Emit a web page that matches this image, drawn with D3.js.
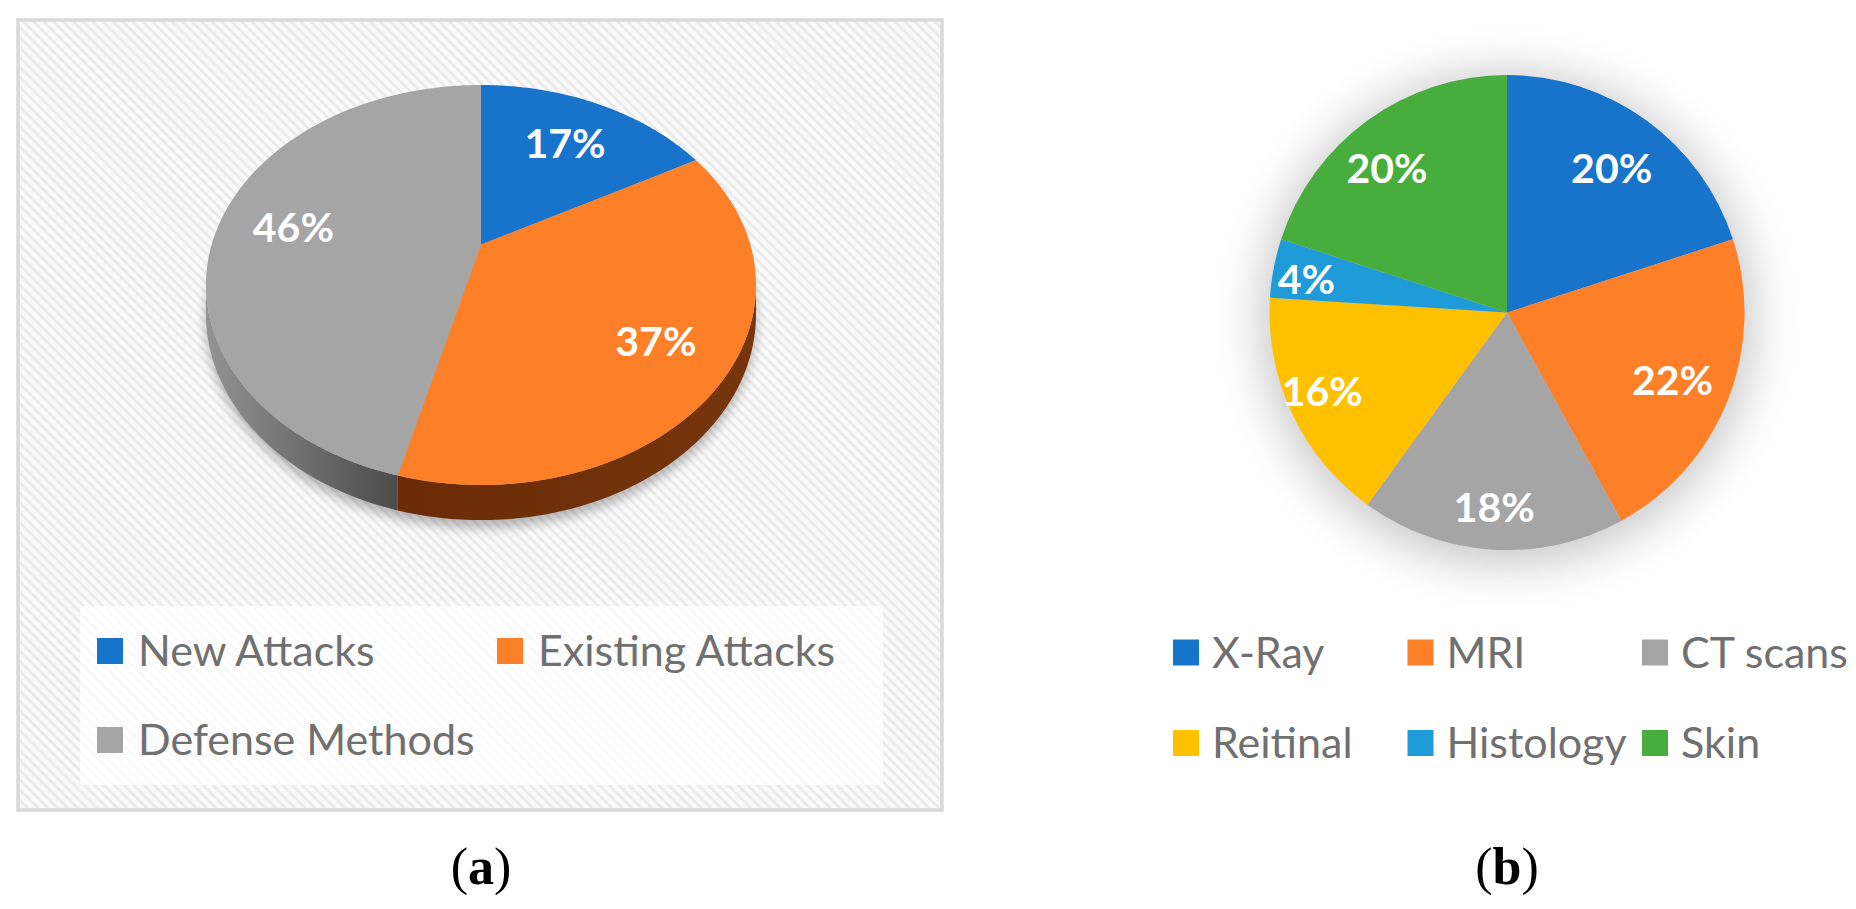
<!DOCTYPE html>
<html>
<head>
<meta charset="utf-8">
<script src="https://cdn.jsdelivr.net/npm/d3@7"></script>
<style>
  body { margin: 0; background: #fff; }
  svg { display: block; font-family: Lato, "Open Sans", sans-serif; }
</style>
</head>
<body>
<svg width="1856" height="909"></svg>
<script>
// (a) research focus
const attackNames = ["New Attacks", "Existing Attacks", "Defense Methods"];
const attackShares = [17, 37, 46];
// (b) image modality
const imageNames = ["X-Ray", "MRI", "CT scans", "Reitinal", "Histology", "Skin"];
const imageShares = [20, 22, 18, 16, 4, 20];
const captions = ["a", "b"];

const attackColors = ["#1873cb", "#fd7f27", "#a5a5a5"];
const attackSides = [["#0e3f70", "#0e3f70"], ["#76350c", "#6a2b06"], ["#939393", "#4b4b4b"]];
const imageColors = ["#1873cb", "#fd7f27", "#a5a5a5", "#ffc000", "#1f9bd9", "#47ad3c"];

const svg = d3.select("svg");
const defs = svg.append("defs");

// diagonal hatch behind panel a
const pat = defs.append("pattern")
  .attr("id", "stripes")
  .attr("patternUnits", "userSpaceOnUse")
  .attr("width", 7).attr("height", 7)
  .attr("patternTransform", "rotate(-45)");
pat.append("rect").attr("width", 7).attr("height", 7).attr("fill", "#fbfbfb");
pat.append("rect").attr("width", 3).attr("height", 7).attr("fill", "#ebebeb");

defs.append("filter").attr("id", "blurA")
  .attr("x", "-20%").attr("y", "-20%").attr("width", "140%").attr("height", "140%")
  .append("feGaussianBlur").attr("stdDeviation", 6);
defs.append("filter").attr("id", "blurB")
  .attr("x", "-50%").attr("y", "-50%").attr("width", "200%").attr("height", "200%")
  .append("feGaussianBlur").attr("stdDeviation", 24);

const pie = d3.pie().sort(null).value(d => d);
const line = d3.line();

// ---------- panel (a): 3D pie ----------
svg.append("rect")
  .attr("x", 18).attr("y", 20).attr("width", 924).attr("height", 790)
  .attr("fill", "url(#stripes)")
  .attr("stroke", "#d9d9d9").attr("stroke-width", 3.5);

const pa = { cx: 481, cy: 244.5, A: 269.3, B: 191.8, K: 0.2025, D: 28 };

// perspective view of the pie disc; theta clockwise from 12 o'clock
function project(theta, f, drop) {
  const u = f * Math.sin(theta), v = f * Math.cos(theta);
  const den = 1 + pa.K * v;
  return [pa.cx + pa.A * u / den, pa.cy - pa.B * v / den + (drop || 0) / den];
}
function arcPoints(a0, a1, f, drop) {
  const n = Math.max(2, Math.ceil((a1 - a0) / (Math.PI / 180)));
  return d3.range(n + 1).map(i => project(a0 + (a1 - a0) * i / n, f, drop));
}

const arcsA = pie(attackShares);
const gA = svg.append("g");

// soft shadow under the disc
gA.append("path")
  .attr("d", line(arcPoints(0, 2 * Math.PI, 1, pa.D + 6)) + "Z")
  .attr("fill", "#000").attr("opacity", 0.28)
  .attr("filter", "url(#blurA)");

const tA = Math.acos(-pa.K), tB = 2 * Math.PI - tA;
arcsA.forEach((d, i) => {
  const s0 = Math.max(d.startAngle, tA), s1 = Math.min(d.endAngle, tB);
  if (s1 <= s0) return;
  const pts = arcPoints(s0, s1, 1, 0).concat(arcPoints(s0, s1, 1, pa.D).reverse());
  const xs = d3.extent(pts, p => p[0]);
  const grad = defs.append("linearGradient")
    .attr("id", "side" + i).attr("gradientUnits", "userSpaceOnUse")
    .attr("x1", xs[0]).attr("x2", xs[1]).attr("y1", 0).attr("y2", 0);
  const shades = attackSides[i];
  grad.append("stop").attr("offset", 0).attr("stop-color", shades[1]);
  grad.append("stop").attr("offset", 1).attr("stop-color", shades[0]);
  if (i === 2) grad.selectAll("stop").attr("stop-color", (s, j) => shades[j]);
  gA.append("path")
    .attr("d", line(pts) + "Z")
    .attr("fill", "url(#side" + i + ")");
});

gA.selectAll("path.top").data(arcsA).join("path")
  .attr("class", "top")
  .attr("d", d => line([project(0, 0)].concat(arcPoints(d.startAngle, d.endAngle, 1, 0))) + "Z")
  .attr("fill", (d, i) => attackColors[i]);

// labels sit 72% of the way from the apex to the rim, in screen space
gA.selectAll("text.pct").data(arcsA).join("text")
  .attr("class", "pct")
  .attr("transform", d => {
    const rim = project((d.startAngle + d.endAngle) / 2, 1);
    const x = pa.cx + 0.72 * (rim[0] - pa.cx), y = pa.cy + 0.72 * (rim[1] - pa.cy);
    return `translate(${x},${y})`;
  })
  .attr("dy", "0.36em")
  .attr("text-anchor", "middle")
  .attr("font-size", 41).attr("font-weight", 700).attr("fill", "#fff")
  .text(d => d.value + "%");

// legend (a)
svg.append("rect")
  .attr("x", 80).attr("y", 606).attr("width", 803).attr("height", 179)
  .attr("fill", "#fff").attr("opacity", 0.72);

function legend(names, colors, colX, rowY, sq, gap) {
  const cols = colX.length;
  const items = svg.append("g").selectAll("g").data(names).join("g")
    .attr("transform", (d, i) => `translate(${colX[i % cols]},${rowY[Math.floor(i / cols)]})`);
  items.append("rect")
    .attr("y", -sq / 2).attr("width", sq).attr("height", sq)
    .attr("fill", (d, i) => colors[i]);
  items.append("text")
    .attr("x", gap).attr("dy", "0.36em")
    .attr("font-size", 43).attr("fill", "#707070")
    .text(d => d);
}
legend(attackNames, attackColors, [97, 497], [651, 740], 26, 41);

// ---------- panel (b): flat pie ----------
const pb = { cx: 1507, cy: 312.6, r: 237.5 };
const gB = svg.append("g").attr("transform", `translate(${pb.cx},${pb.cy})`);

gB.append("circle")
  .attr("r", pb.r + 8).attr("cy", 6)
  .attr("fill", "#000").attr("opacity", 0.22)
  .attr("filter", "url(#blurB)");

const arcB = d3.arc().innerRadius(0).outerRadius(pb.r);
const labelArc = d3.arc().innerRadius(pb.r * 0.75).outerRadius(pb.r * 0.75);
const arcsB = pie(imageShares);

gB.selectAll("path").data(arcsB).join("path")
  .attr("d", arcB)
  .attr("fill", (d, i) => imageColors[i]);

// best-fit nudge: labels on the left / bottom drift outward a little
gB.selectAll("text").data(arcsB).join("text")
  .attr("transform", d => {
    const c = labelArc.centroid(d);
    const m = (d.startAngle + d.endAngle) / 2;
    const s = Math.sin(m), k = Math.cos(m);
    const dx = s < 0 ? 26 * s : 0, dy = k < 0 ? 17 * k * k : 0;
    return `translate(${c[0] + dx},${c[1] + dy})`;
  })
  .attr("dy", "0.36em")
  .attr("text-anchor", "middle")
  .attr("font-size", 41).attr("font-weight", 700).attr("fill", "#fff")
  .text(d => d.value + "%");

legend(imageNames, imageColors, [1173, 1407.5, 1642], [652.5, 743], 26, 39);

// ---------- captions ----------
const cap = svg.selectAll("text.cap").data(captions).join("text")
  .attr("class", "cap")
  .attr("x", (d, i) => [pa.cx, pb.cx][i])
  .attr("y", 884)
  .attr("text-anchor", "middle")
  .attr("font-family", "'Liberation Serif', 'DejaVu Serif', serif")
  .attr("font-size", 52).attr("fill", "#000");
cap.append("tspan").text("(");
cap.append("tspan").attr("font-weight", 700).text(d => d);
cap.append("tspan").text(")");
</script>
</body>
</html>
